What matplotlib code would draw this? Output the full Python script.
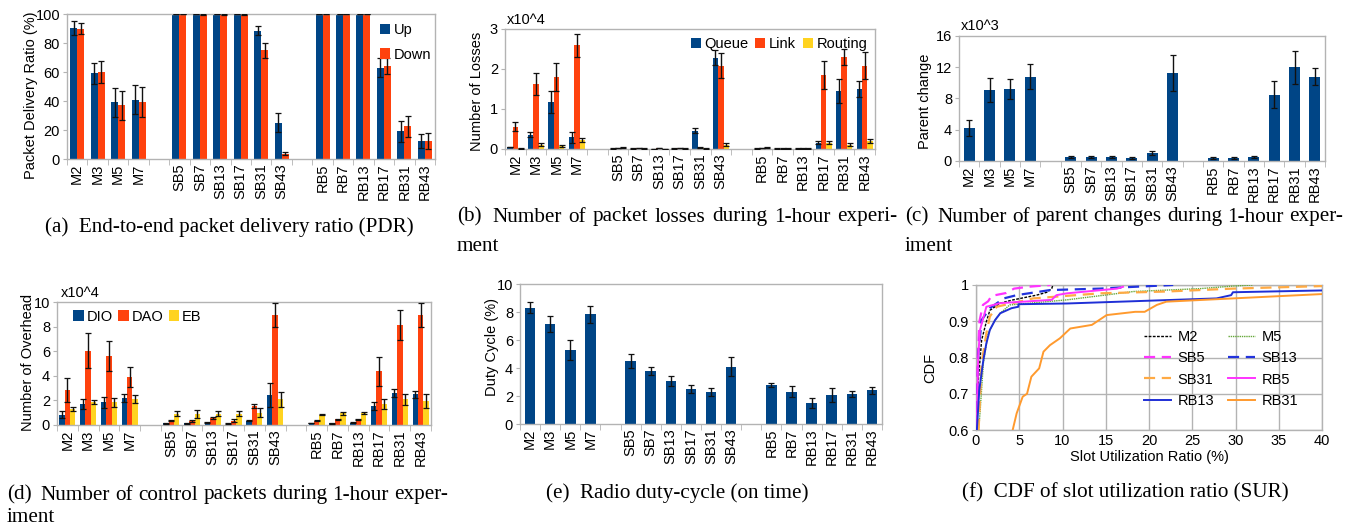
import numpy as np
import matplotlib
matplotlib.use('Agg')
import matplotlib.pyplot as plt
from matplotlib.ticker import FixedLocator

plt.rcParams['font.family'] = ['Liberation Sans', 'DejaVu Sans']

# ── Data ───────────────────────────────────────────────────────────────────────
cats = ['M2', 'M3', 'M5', 'M7', '',
        'SB5', 'SB7', 'SB13', 'SB17', 'SB31', 'SB43', '',
        'RB5', 'RB7', 'RB13', 'RB17', 'RB31', 'RB43']

# (a) PDR (%)
pdr_up = [90.5, 59, 39, 41, None, 100, 100, 100, 100, 88.5, 25, None, 100, 100, 100, 63, 19, 12.5]
pdr_up_err = [5, 7, 10, 10, None, 0.3, 0.3, 0.3, 0.3, 3, 6.5, None, 0.2, 0.2, 0.2, 6.5, 7, 5]
pdr_down = [90, 60, 37, 39.5, None, 100, 99.8, 99.8, 99.8, 75, 3.5, None, 100, 100, 100, 64, 22.5, 12.5]
pdr_down_err = [4, 7.5, 10, 10.5, None, 0.3, 0.3, 0.3, 0.3, 5, 1, None, 0.2, 0.2, 0.2, 5.5, 7.5, 5.5]

# (b) losses (x10^4)
loss_queue = [0.05, 0.36, 1.17, 0.29, None, 0.01, 0.01, 0.005, 0.01, 0.46, 2.28, None, 0.01, 0.01, 0.01, 0.16, 1.45, 1.50]
loss_queue_err = [0.01, 0.07, 0.27, 0.13, None, 0.005, 0.005, 0.005, 0.005, 0.06, 0.19, None, 0.005, 0.005, 0.005, 0.04, 0.29, 0.21]
loss_link = [0.56, 1.62, 1.80, 2.59, None, 0.02, 0.02, 0.02, 0.02, 0.03, 2.08, None, 0.02, 0.01, 0.01, 1.85, 2.31, 2.08]
loss_link_err = [0.12, 0.27, 0.34, 0.29, None, 0.005, 0.005, 0.005, 0.005, 0.01, 0.31, None, 0.005, 0.005, 0.005, 0.34, 0.20, 0.34]
loss_route = [0.02, 0.11, 0.08, 0.23, None, 0.03, 0.01, 0.005, 0.01, 0.02, 0.11, None, 0.04, 0.01, 0.01, 0.16, 0.11, 0.20]
loss_route_err = [0.01, 0.04, 0.03, 0.05, None, 0.01, 0.005, 0.005, 0.005, 0.01, 0.03, None, 0.01, 0.005, 0.005, 0.04, 0.04, 0.04]

# (c) parent changes (x10^3)
parent = [4.2, 9.1, 9.2, 10.8, None, 0.5, 0.5, 0.5, 0.4, 1.0, 11.3, None, 0.35, 0.35, 0.5, 8.5, 12.0, 10.8]
parent_err = [1.0, 1.5, 1.3, 1.6, None, 0.1, 0.1, 0.1, 0.1, 0.25, 2.3, None, 0.1, 0.1, 0.1, 1.7, 2.1, 1.1]

# (d) control packets (x10^4)
dio = [0.85, 1.7, 1.85, 2.2, None, 0.15, 0.15, 0.2, 0.15, 0.35, 2.45, None, 0.15, 0.15, 0.2, 1.55, 2.6, 2.5]
dio_err = [0.3, 0.4, 0.45, 0.3, None, 0.05, 0.05, 0.03, 0.05, 0.05, 1.0, None, 0.02, 0.03, 0.03, 0.35, 0.35, 0.3]
dao = [2.85, 6.05, 5.6, 3.9, None, 0.35, 0.35, 0.55, 0.35, 1.55, 8.95, None, 0.35, 0.45, 0.45, 4.35, 8.15, 8.95]
dao_err = [1.0, 1.4, 1.2, 0.8, None, 0.05, 0.07, 0.08, 0.1, 0.15, 0.95, None, 0.04, 0.05, 0.05, 1.2, 1.2, 0.95]
eb = [1.3, 1.85, 1.85, 2.1, None, 0.9, 0.9, 0.9, 0.9, 1.0, 2.1, None, 0.85, 0.95, 0.95, 1.7, 2.1, 1.95]
eb_err = [0.2, 0.15, 0.35, 0.35, None, 0.2, 0.3, 0.2, 0.2, 0.35, 0.6, None, 0.05, 0.1, 0.08, 0.4, 0.45, 0.55]

# (e) duty cycle (%)
duty = [8.3, 7.15, 5.3, 7.85, None, 4.5, 3.8, 3.1, 2.5, 2.3, 4.1, None, 2.8, 2.3, 1.5, 2.05, 2.15, 2.4]
duty_err = [0.4, 0.55, 0.7, 0.6, None, 0.5, 0.3, 0.35, 0.3, 0.3, 0.7, None, 0.15, 0.4, 0.35, 0.5, 0.2, 0.25]

# (f) CDF of SUR
cdf_m2_x = [0.1, 0.27, 0.65, 1.2, 1.6, 2.8, 4.3, 7.0, 8.2, 8.75, 8.9]
cdf_m2_y = [0.6, 0.738, 0.848, 0.899, 0.93, 0.95, 0.959, 0.972, 0.98, 0.99, 1.0]
cdf_m5_x = [0.3, 0.46, 0.85, 1.4, 2.2, 2.8, 3.9, 10.5, 18.2, 25.9, 29.7, 32]
cdf_m5_y = [0.6, 0.646, 0.784, 0.867, 0.903, 0.922, 0.945, 0.959, 0.982, 0.99, 0.997, 1.0]
cdf_sb5_x = [0.05, 0.2, 0.4, 0.8, 1.4, 1.8, 3.5, 4.4, 6.0, 8.6]
cdf_sb5_y = [0.6, 0.8, 0.9, 0.945, 0.955, 0.97, 0.978, 0.99, 0.995, 1.0]
cdf_sb13_x = [0.1, 0.27, 0.65, 1.6, 3.2, 4.7, 8.55, 14.3, 17.4, 22.8]
cdf_sb13_y = [0.6, 0.81, 0.903, 0.936, 0.963, 0.972, 0.986, 0.99, 0.994, 1.0]
cdf_sb31_x = [0.3, 0.65, 1.2, 1.6, 2.4, 6.6, 14.3, 22, 29.7, 40]
cdf_sb31_y = [0.6, 0.784, 0.867, 0.913, 0.94, 0.963, 0.977, 0.982, 0.99, 0.997]
cdf_rb5_x = [0.1, 0.25, 0.46, 1.2, 2.8, 8.75, 9.3, 10.5, 16.3, 17]
cdf_rb5_y = [0.6, 0.8, 0.876, 0.94, 0.95, 0.959, 0.972, 0.977, 0.99, 0.995]
cdf_rb13_x = [0.1, 0.38, 0.85, 1.2, 1.6, 2.2, 2.8, 4.1, 4.9, 4.9, 10.5, 27.8, 29.5, 29.7, 40]
cdf_rb13_y = [0.6, 0.71, 0.793, 0.839, 0.876, 0.903, 0.922, 0.936, 0.94, 0.947, 0.949, 0.963, 0.972, 0.98, 0.985]
cdf_rb31_x = [4.24, 4.7, 5.4, 5.9, 6.4, 7.3, 7.8, 8.55, 9.7, 10.9, 13.4, 15.1, 18.4, 19.5, 20.9, 22, 29.7, 40]
cdf_rb31_y = [0.6, 0.646, 0.692, 0.70, 0.747, 0.77, 0.816, 0.834, 0.853, 0.88, 0.89, 0.917, 0.926, 0.926, 0.945, 0.954, 0.963, 0.975]

BLUE, RED, YEL = '#004586', '#ff420e', '#ffd320'
GRAY = '#b3b3b3'
W, H = 1346, 525
SERIF = ['Liberation Serif', 'DejaVu Serif']

fig = plt.figure(figsize=(W / 100, H / 100), dpi=100)
fig.patch.set_facecolor('white')


def px_axes(l, t, r, b):
    return fig.add_axes([l / W, 1 - b / H, (r - l) / W, (b - t) / H])


def style_axes(ax, ylim, yticks, ylabel, lx, ly, ylabels=None):
    for s in ax.spines.values():
        s.set_color(GRAY)
        s.set_linewidth(1.0)
    ax.set_ylim(*ylim)
    ax.set_yticks(yticks)
    if ylabels is not None:
        ax.set_yticklabels(ylabels)
    ax.set_ylabel(ylabel, fontsize=10.5)
    ax.yaxis.set_label_coords(lx, ly)
    ax.tick_params(axis='y', direction='out', length=3, color=GRAY, labelsize=10.5, pad=2)


def bar_axes(ax, series, errs, colors, width, labels=None):
    n = len(series)
    x = np.arange(len(cats))
    for i, (vals, err, c) in enumerate(zip(series, errs, colors)):
        idx = [k for k, v in enumerate(vals) if v is not None]
        xs = x[idx] + (i - (n - 1) / 2) * width
        ax.bar(xs, [vals[k] for k in idx], width=width, color=c,
               label=None if labels is None else labels[i], zorder=2)
        ax.errorbar(xs, [vals[k] for k in idx], yerr=[err[k] for k in idx],
                    fmt='none', ecolor='#111', elinewidth=1.0, capsize=2,
                    capthick=0.9, zorder=3)
    ax.set_xlim(-0.5, len(cats) - 0.5)
    ax.set_xticks(x)
    ax.set_xticklabels(cats, rotation=90, fontsize=10.5)
    ax.tick_params(axis='x', which='major', length=0, pad=3)
    ax.xaxis.set_minor_locator(FixedLocator(np.arange(-0.5, len(cats), 1.0)))
    ax.tick_params(axis='x', which='minor', length=4, color=GRAY, direction='out')


def caption(x, y, s, ha='left'):
    fig.text(x / W, 1 - y / H, s, fontsize=15.2, family=SERIF, ha=ha, va='center')


def justified(x0, x1, y, s):
    # spread the words of a caption line over [x0, x1]; wider gap after the (x) tag
    r = fig.canvas.get_renderer()
    words = s.split()
    texts = [fig.text(0, 0, w, fontsize=15.2, family=SERIF, va='center') for w in words]
    widths = [t.get_window_extent(r).width for t in texts]
    weights = [1.7] + [1.0] * (len(words) - 2)
    unit = (x1 - x0 - sum(widths)) / sum(weights)
    x = x0
    for i, (t, w) in enumerate(zip(texts, widths)):
        t.set_position((x / W, 1 - y / H))
        if i < len(weights):
            x += w + unit * weights[i]


def leg_kw():
    return dict(frameon=False, fontsize=10.5, handlelength=0.7, handleheight=0.7,
                handletextpad=0.25, borderaxespad=0)


# ── (a) ────────────────────────────────────────────────────────────────────────
ax = px_axes(67, 14, 435, 159)
bar_axes(ax, [pdr_up, pdr_down], [pdr_up_err, pdr_down_err], [BLUE, RED], 0.34, ['Up', 'Down'])
style_axes(ax, (0, 100), [0, 20, 40, 60, 80, 100], 'Packet Delivery Ratio (%)', -0.079, 0.44)
ax.legend(loc='upper left', bbox_to_anchor=(0.835, 0.975), labelspacing=0.7, **leg_kw())
caption(229, 227, '(a)  End-to-end packet delivery ratio (PDR)', ha='center')

# ── (b) ────────────────────────────────────────────────────────────────────────
ax = px_axes(505, 29, 875, 149)
bar_axes(ax, [loss_queue, loss_link, loss_route], [loss_queue_err, loss_link_err, loss_route_err],
         [BLUE, RED, YEL], 0.26, ['Queue', 'Link', 'Routing'])
style_axes(ax, (0, 3), [0, 1, 2, 3], 'Number of Losses', -0.057, 0.48)
ax.text(0.005, 1.02, 'x10^4', transform=ax.transAxes, fontsize=10.5, va='bottom')
ax.legend(loc='upper right', bbox_to_anchor=(0.995, 0.98), ncol=3, columnspacing=0.45, **leg_kw())
justified(457, 897, 217, '(b)  Number of packet losses during 1-hour experi-')
caption(457, 246, 'ment')

# ── (c) ────────────────────────────────────────────────────────────────────────
ax = px_axes(959, 36, 1325, 161)
bar_axes(ax, [parent], [parent_err], [BLUE], 0.53)
style_axes(ax, (0, 16), [0, 4, 8, 12, 16], 'Parent change', -0.074, 0.48)
ax.text(0.005, 1.02, 'x10^3', transform=ax.transAxes, fontsize=10.5, va='bottom')
justified(905, 1343, 217, '(c)  Number of parent changes during 1-hour exper-')
caption(905, 246, 'iment')

# ── (d) ────────────────────────────────────────────────────────────────────────
ax = px_axes(57, 302, 431, 425)
bar_axes(ax, [dio, dao, eb], [dio_err, dao_err, eb_err], [BLUE, RED, YEL], 0.26, ['DIO', 'DAO', 'EB'])
style_axes(ax, (0, 10), [0, 2, 4, 6, 8, 10], 'Number of Overhead', -0.059, 0.51)
ax.text(0.01, 1.02, 'x10^4', transform=ax.transAxes, fontsize=10.5, va='bottom')
ax.legend(loc='upper left', bbox_to_anchor=(0.028, 0.985), ncol=3, columnspacing=0.4,
          **dict(leg_kw(), handletextpad=0.2))
justified(7, 448, 495, '(d)  Number of control packets during 1-hour exper-')
caption(7, 518, 'iment')

# ── (e) ────────────────────────────────────────────────────────────────────────
ax = px_axes(520, 284, 882, 424)
bar_axes(ax, [duty], [duty_err], [BLUE], 0.53)
style_axes(ax, (0, 10), [0, 2, 4, 6, 8, 10], 'Duty Cycle (%)', -0.058, 0.55)
caption(677, 493, '(e)  Radio duty-cycle (on time)', ha='center')

# ── (f) ────────────────────────────────────────────────────────────────────────
ax = px_axes(976, 285, 1322, 430)
curves = [
    (cdf_m2_x, cdf_m2_y, 'M2', dict(color='black', lw=1.0, ls=(0, (2, 1)))),
    (cdf_m5_x, cdf_m5_y, 'M5', dict(color='#66a83a', lw=1.0, ls=(0, (1, 0.6)))),
    (cdf_sb5_x, cdf_sb5_y, 'SB5', dict(color='#ff33ff', lw=1.6, ls=(0, (5, 3)))),
    (cdf_sb13_x, cdf_sb13_y, 'SB13', dict(color='#2233dd', lw=1.6, ls=(0, (5, 3)))),
    (cdf_sb31_x, cdf_sb31_y, 'SB31', dict(color='#ffaa44', lw=1.6, ls=(0, (5, 3)))),
    (cdf_rb5_x, cdf_rb5_y, 'RB5', dict(color='#ff33ff', lw=1.4, ls='-')),
    (cdf_rb13_x, cdf_rb13_y, 'RB13', dict(color='#1f2fd6', lw=1.4, ls='-')),
    (cdf_rb31_x, cdf_rb31_y, 'RB31', dict(color='#ff9a2e', lw=1.4, ls='-')),
]
handles = {}
for xs, ys, lab, kw in curves:
    handles[lab], = ax.plot(xs, ys, label=lab, zorder=3, **kw)
ax.set_xlim(0, 40)
ax.set_xticks(range(0, 41, 5))
ax.grid(True, color=GRAY, lw=1.0, zorder=0)
ax.set_axisbelow(True)
style_axes(ax, (0.6, 1.0), [0.6, 0.7, 0.8, 0.9, 1.0], 'CDF', -0.113, 0.43,
           ['0.6', '0.7', '0.8', '0.9', '1'])
ax.tick_params(axis='x', length=0, labelsize=10.5, pad=3)
ax.set_xlabel('Slot Utilization Ratio (%)', fontsize=10.5, labelpad=1)
order = ['M2', 'SB5', 'SB31', 'RB13', 'M5', 'SB13', 'RB5', 'RB31']
ax.legend([handles[k] for k in order], order, loc='upper left', bbox_to_anchor=(0.47, 0.73),
          ncol=2, frameon=False, fontsize=10.5, handlelength=1.8, handletextpad=0.45,
          labelspacing=0.5, columnspacing=1.0, borderaxespad=0)
caption(1125, 493, '(f)  CDF of slot utilization ratio (SUR)', ha='center')

plt.savefig('out.png', dpi=100, facecolor='white')
